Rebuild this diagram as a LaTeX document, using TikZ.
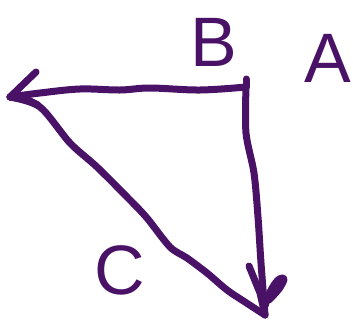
\documentclass[tikz,border=0pt]{standalone}
\usepackage{fontspec}
\setmainfont{Liberation Sans}
\definecolor{ink}{HTML}{4A1266}
\begin{document}
\begin{tikzpicture}[x=1pt,y=-1pt,
  stroke/.style={draw=ink,line width=7pt,line cap=round,line join=round},
  letter/.style={text=ink,inner sep=0pt,font=\fontsize{70}{70}\selectfont}]
\useasboundingbox (0,0) rectangle (353,327);
% vertices
\coordinate (b) at (246,87);
\coordinate (l) at (10,97);
\coordinate (d) at (265,315);
% top edge (B to left)
\draw[stroke] (246,79) -- (b);
\draw[stroke] plot[smooth,tension=0.6] coordinates {(b) (200,90) (150,88) (120,90) (80,89) (40,93) (l)};
% left arrowhead
\draw[stroke] (l) -- (36,72);
\draw[stroke] (l) -- (28,100) -- (38,105);
% diagonal (left to bottom)
\draw[stroke] plot[smooth,tension=0.5] coordinates {(l) (40,107) (70,143) (97,167) (130,200) (147,218) (170,247) (187,258) (207,273) (227,290) (245,302) (d)};
% vertical edge (B down)
\draw[stroke] plot[smooth,tension=0.5] coordinates {(b) (246,133) (254,173) (258,217) (261,263) (d)};
% bottom arrowhead
\draw[stroke] (249,266) -- (260,293) -- (d);
\draw[stroke] plot[smooth,tension=0.6] coordinates {(265,306) (270,292) (278,280) (284,279) (279,289) (269,300)};
% labels
\node[letter] (B) at (214,42) {B};
\node[letter] (A) at (328,58) {A};
\node[letter] (C) at (120,270) {C};
\end{tikzpicture}
\end{document}
